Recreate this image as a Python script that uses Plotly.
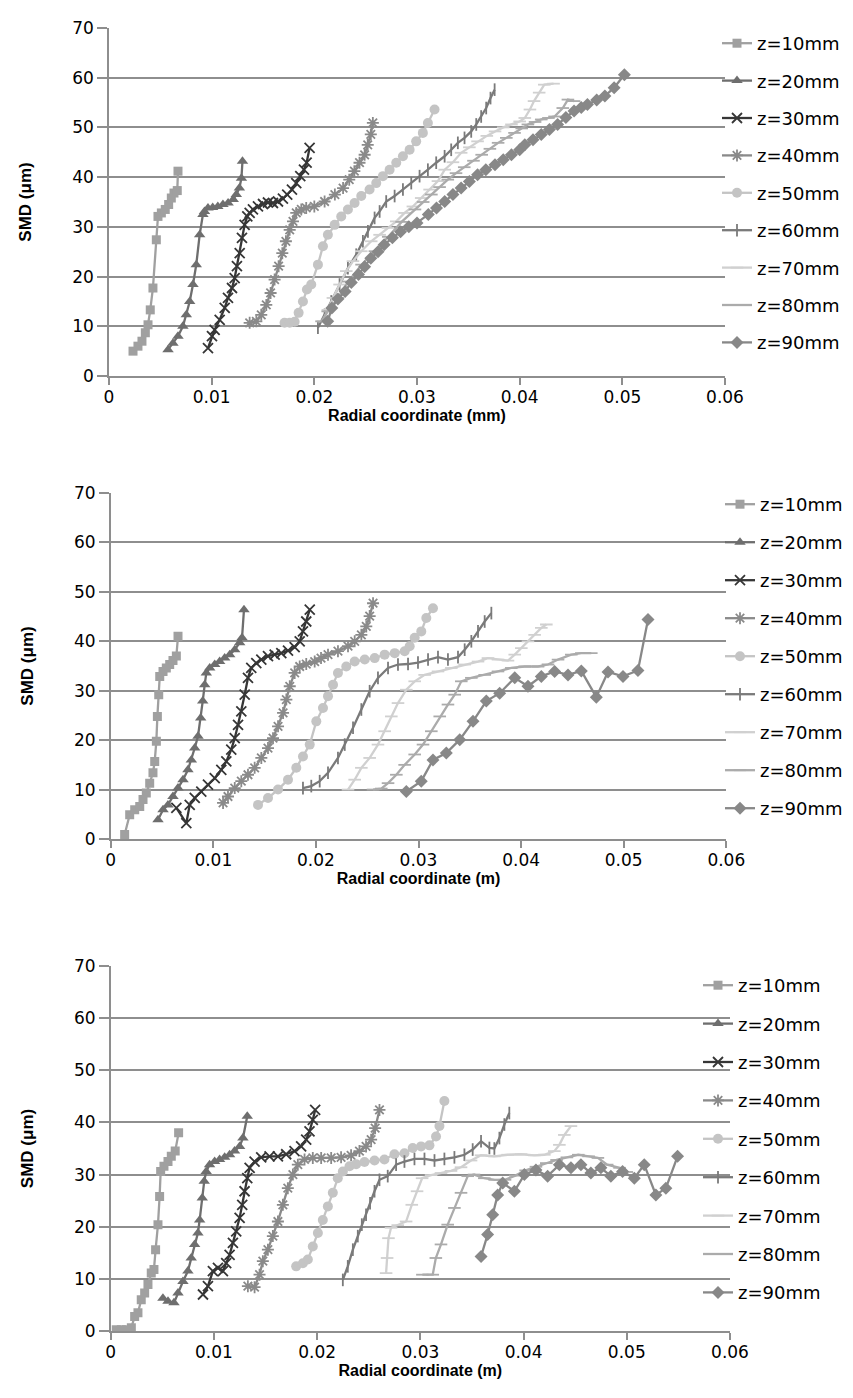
import plotly.graph_objects as go

# ---------------- data ----------------
labels = ["z=10mm", "z=20mm", "z=30mm", "z=40mm", "z=50mm", "z=60mm", "z=70mm", "z=80mm", "z=90mm"]
x_tick_vals = [0, 0.01, 0.02, 0.03, 0.04, 0.05, 0.06]
x_tick_text = ["0", "0.01", "0.02", "0.03", "0.04", "0.05", "0.06"]
y_tick_vals = [0, 10, 20, 30, 40, 50, 60, 70]
x_titles = ["Radial coordinate (mm)", "Radial coordinate (m)", "Radial coordinate (m)"]
y_title = "SMD (μm)"

# Panel 1
p1_z10_x = [0.00234,0.00282,0.00321,0.00354,0.0038,0.00402,0.00428,0.00461,0.00477,0.0051,0.00548,0.00581,0.00607,0.00633,0.00665,0.00672]
p1_z10_y = [5.0,6.0,7.0,8.7,10.3,13.3,17.7,27.4,32.1,32.8,33.5,34.5,35.8,36.8,37.3,41.2]
p1_z20_x = [0.00575,0.00623,0.00672,0.0072,0.00753,0.00786,0.00818,0.0085,0.00883,0.00915,0.0093,0.00964,0.0101,0.0106,0.0111,0.0116,0.0121,0.0124,0.0127,0.0129,0.0130]
p1_z20_y = [5.3,6.6,8.0,10.0,12.3,15.0,18.4,22.4,28.4,32.5,33.1,33.8,33.9,34.1,34.5,34.8,35.5,36.5,37.8,39.8,43.2]
p1_z30_x = [0.00964,0.01003,0.01029,0.01078,0.01127,0.01159,0.01198,0.01224,0.01246,0.01273,0.01295,0.01321,0.01347,0.0137,0.01402,0.01451,0.015,0.01548,0.01597,0.01646,0.01694,0.01736,0.01782,0.01824,0.01863,0.01899,0.01925,0.01954]
p1_z30_y = [5.6,8.0,9.3,11.3,13.7,15.7,17.7,19.7,22.1,24.7,27.8,30.4,32.1,32.8,33.5,34.1,34.6,34.9,34.8,35.1,35.7,36.5,37.5,38.8,40.2,41.5,42.9,45.9]
p1_z40_x = [0.0137,0.01435,0.01483,0.01532,0.01574,0.01613,0.01652,0.01688,0.01723,0.0176,0.01792,0.01824,0.01873,0.01921,0.0200,0.0210,0.0220,0.0228,0.0234,0.0239,0.0244,0.0249,0.0252,0.0255,0.0257]
p1_z40_y = [10.7,11.0,12.3,14.3,16.7,19.4,22.1,24.7,27.1,29.4,31.1,32.8,33.5,33.8,34.1,35.1,36.5,37.8,39.5,41.2,42.9,44.5,46.5,48.6,50.9]
p1_z50_x = [0.0171,0.0176,0.01808,0.01847,0.01889,0.01928,0.0197,0.02035,0.02084,0.02132,0.02198,0.02262,0.02327,0.02392,0.02457,0.02538,0.02603,0.02668,0.02733,0.02798,0.02863,0.02928,0.02992,0.03057,0.03106,0.03171]
p1_z50_y = [10.7,10.7,10.9,12.7,15.0,17.4,18.4,22.4,26.1,28.4,30.4,32.1,33.5,34.8,36.2,37.5,38.8,40.2,41.5,42.9,44.2,45.5,47.2,48.9,50.9,53.6]
p1_z60_x = [0.02035,0.021,0.02165,0.02246,0.02327,0.02408,0.02473,0.02522,0.02587,0.02636,0.027,0.02782,0.02863,0.02944,0.03025,0.03106,0.03187,0.03269,0.03333,0.03398,0.03463,0.03528,0.03577,0.03625,0.03674,0.03716,0.03756]
p1_z60_y = [9.7,12.3,15.0,18.4,21.7,24.4,27.1,29.1,31.8,33.1,35.1,36.2,37.5,38.8,40.2,41.5,42.9,44.2,45.5,46.9,47.9,49.2,50.6,52.2,53.9,55.9,57.6]
p1_z70_x = [0.02084,0.02132,0.02181,0.02246,0.02311,0.02376,0.02457,0.02554,0.02636,0.02717,0.02798,0.02879,0.0296,0.03041,0.03123,0.03204,0.0327,0.0335,0.0343,0.0351,0.0359,0.0368,0.0376,0.0384,0.0392,0.0400,0.0405,0.0410,0.0414,0.0419,0.0424,0.0433]
p1_z70_y = [11.0,13.3,15.7,18.4,21.1,23.1,25.1,27.1,28.4,29.8,31.1,32.8,34.1,35.8,37.5,39.2,41.5,43.0,44.9,46.0,47.2,48.3,49.2,50.0,50.6,51.2,51.9,53.6,55.3,57.0,58.6,58.8]
p1_z80_x = [0.0207,0.0213,0.0223,0.0233,0.0246,0.0259,0.0272,0.0285,0.0298,0.0306,0.0314,0.0322,0.0330,0.0338,0.0346,0.0355,0.0363,0.0371,0.0379,0.0387,0.0395,0.0402,0.0408,0.0415,0.0421,0.0428,0.0434,0.0442,0.0447,0.0453]
p1_z80_y = [11.0,13.0,15.7,19.0,22.4,25.1,28.0,31.0,33.5,35.0,36.5,38.0,39.5,40.8,42.0,43.3,44.5,45.7,46.9,47.9,48.9,49.8,50.6,51.1,51.6,51.9,52.2,53.9,55.6,55.3]
p1_z90_x = [0.0213,0.0217,0.0223,0.0230,0.0236,0.0243,0.0249,0.0255,0.0262,0.0268,0.0276,0.0284,0.0292,0.0300,0.0311,0.0319,0.0327,0.0335,0.0343,0.0351,0.0359,0.0367,0.0376,0.0384,0.0392,0.0400,0.0405,0.0413,0.0421,0.0429,0.0437,0.0445,0.0453,0.0460,0.0466,0.0475,0.0483,0.0492,0.0502]
p1_z90_y = [11.0,13.7,15.5,17.0,18.8,20.4,22.0,23.7,25.0,26.4,27.8,29.0,30.0,30.8,32.5,33.8,35.1,36.5,37.8,39.1,40.5,41.5,42.5,43.5,44.5,45.5,46.5,47.5,48.6,49.6,50.6,52.0,53.3,54.0,54.6,55.5,56.3,58.0,60.6]

# Panel 2
p2_z10_x = [0.00136,0.00185,0.00234,0.00283,0.00315,0.00347,0.0038,0.00412,0.00429,0.00445,0.00455,0.00468,0.00478,0.0051,0.00542,0.00575,0.00607,0.0064,0.00656]
p2_z10_y = [0.9,4.9,5.9,6.6,8.0,9.3,11.3,13.4,15.7,19.8,24.8,29.2,32.9,33.9,34.6,35.3,36.1,37.0,41.0]
p2_z20_x = [0.00461,0.0051,0.00558,0.00607,0.00656,0.00705,0.00753,0.00786,0.00819,0.00851,0.00877,0.00897,0.00916,0.00932,0.00965,0.01014,0.01062,0.01111,0.0116,0.01209,0.01257,0.0128,0.01299]
p2_z20_y = [3.9,5.9,6.9,8.6,10.3,12.0,14.0,16.0,18.4,20.8,24.5,27.9,31.2,33.6,34.6,35.3,35.9,36.6,37.3,38.3,39.7,40.7,46.4]
p2_z30_x = [0.0064,0.00737,0.0077,0.00819,0.00883,0.00948,0.01014,0.01078,0.01127,0.01175,0.01209,0.01241,0.01273,0.01306,0.01338,0.0137,0.01419,0.01468,0.01533,0.01598,0.01663,0.01728,0.01793,0.01842,0.01874,0.01906,0.0194]
p2_z30_y = [6.3,3.2,6.9,8.3,9.6,11.0,12.3,14.0,15.7,18.1,20.4,23.1,25.8,29.2,32.6,34.6,35.6,36.3,37.0,37.3,37.6,38.1,38.8,40.0,42.0,44.0,46.4]
p2_z40_x = [0.01095,0.01143,0.01209,0.01273,0.01338,0.01403,0.01468,0.01533,0.01582,0.01631,0.0168,0.01712,0.01745,0.01793,0.01842,0.01906,0.01988,0.0205,0.02118,0.02215,0.02313,0.02378,0.02443,0.02491,0.02524,0.02557]
p2_z40_y = [7.3,8.6,10.3,11.7,13.0,14.4,16.4,18.4,20.4,22.8,25.5,28.2,30.9,33.6,34.9,35.4,35.9,36.6,37.3,38.0,39.0,40.0,41.3,43.0,45.1,47.7]
p2_z50_x = [0.01436,0.01533,0.01631,0.01728,0.01809,0.01874,0.0194,0.02004,0.02069,0.02118,0.02167,0.02215,0.02296,0.02378,0.02476,0.02573,0.0267,0.02768,0.02865,0.02914,0.02963,0.03027,0.03076,0.03141]
p2_z50_y = [6.9,8.3,10.0,12.0,14.4,16.7,19.1,23.8,26.5,28.9,31.2,33.6,34.9,35.9,36.3,36.6,37.3,37.6,38.0,39.0,40.7,42.0,44.7,46.7]
p2_z60_x = [0.01874,0.01955,0.02037,0.02118,0.02215,0.02281,0.02362,0.02443,0.02524,0.02605,0.02703,0.028,0.02898,0.02995,0.03093,0.0319,0.03287,0.03385,0.0345,0.03515,0.0358,0.03645,0.0371]
p2_z60_y = [10.3,10.7,11.7,13.4,16.4,19.1,22.5,26.2,29.9,32.6,34.6,35.3,35.4,35.7,36.3,36.8,36.3,36.8,38.3,40.0,42.0,44.0,45.7]
p2_z70_x = [0.02313,0.02378,0.02443,0.02524,0.02605,0.0267,0.02735,0.028,0.02881,0.02963,0.0306,0.0319,0.0332,0.0345,0.0358,0.03677,0.03775,0.03872,0.03938,0.04002,0.04067,0.04132,0.04197,0.04246]
p2_z70_y = [10.0,12.0,14.4,16.4,19.1,21.8,24.8,27.5,30.2,31.9,33.2,33.9,34.6,35.3,35.9,36.6,36.3,36.1,37.3,38.6,40.0,41.3,42.7,43.4]
p2_z80_x = [0.02557,0.02637,0.02703,0.02784,0.02865,0.02963,0.03044,0.03125,0.03207,0.03287,0.03353,0.03417,0.03515,0.03645,0.03775,0.03904,0.04035,0.04165,0.04262,0.0436,0.04489,0.04587,0.04684]
p2_z80_y = [10.0,10.2,11.3,13.0,15.0,17.1,19.1,21.8,24.8,27.2,29.2,31.9,32.6,33.2,33.9,34.6,34.9,34.9,35.3,36.3,37.3,37.6,37.6]
p2_z90_x = [0.02881,0.03027,0.03141,0.03271,0.03402,0.03531,0.03661,0.03791,0.03938,0.04067,0.04197,0.04327,0.04457,0.04587,0.04733,0.04847,0.04993,0.05139,0.05237]
p2_z90_y = [9.6,11.7,16.0,17.4,20.1,23.8,27.9,29.5,32.6,30.9,32.9,33.9,33.2,34.0,28.7,33.8,32.9,34.1,44.4]

# Panel 3
p3_z10_x = [0.00054,0.00103,0.00151,0.002,0.00232,0.00264,0.00296,0.00329,0.00361,0.00393,0.00419,0.00435,0.00458,0.00474,0.00484,0.00516,0.00555,0.00587,0.00625,0.00658]
p3_z10_y = [0.25,0.25,0.25,0.6,2.8,3.5,6.0,7.3,8.9,11.1,11.8,15.6,20.4,25.8,30.6,31.6,32.5,33.5,34.5,38.0]
p3_z20_x = [0.00506,0.00555,0.00613,0.00652,0.007,0.00748,0.0078,0.00813,0.00845,0.00862,0.00887,0.00906,0.00925,0.00958,0.01007,0.01055,0.01104,0.01152,0.012,0.01249,0.01281,0.01323]
p3_z20_y = [6.3,5.7,5.4,7.3,9.5,11.5,14.0,16.6,18.8,21.3,25.5,28.7,30.6,31.9,32.5,32.9,33.3,33.8,34.5,35.4,37.0,41.2]
p3_z30_x = [0.00894,0.00942,0.0099,0.01039,0.01087,0.01119,0.01152,0.01184,0.01216,0.01249,0.01274,0.01297,0.01323,0.01346,0.01394,0.01458,0.01539,0.0162,0.017,0.01781,0.01845,0.01894,0.01926,0.01958,0.01981]
p3_z30_y = [7.0,8.6,11.5,12.1,11.5,13.0,14.6,16.9,19.1,21.7,24.2,26.8,29.3,31.3,32.5,33.3,33.5,33.5,33.9,34.5,35.4,36.7,38.3,40.5,42.4]
p3_z40_x = [0.01329,0.01394,0.01442,0.01474,0.01523,0.01571,0.0162,0.01668,0.01716,0.01765,0.01813,0.01878,0.01958,0.02039,0.02136,0.02232,0.02329,0.0241,0.02474,0.02523,0.02562,0.02604]
p3_z40_y = [8.6,8.4,10.8,13.4,15.6,18.2,21.0,24.2,27.4,30.0,31.9,32.9,33.2,33.2,33.2,33.3,33.7,34.5,35.4,36.7,38.9,42.4]
p3_z50_x = [0.01797,0.01862,0.0191,0.01958,0.02007,0.02055,0.02104,0.02152,0.022,0.02249,0.02314,0.02378,0.02459,0.02556,0.02652,0.02749,0.02846,0.02926,0.03007,0.03088,0.03152,0.03185,0.03233]
p3_z50_y = [12.4,13.0,13.7,16.2,18.8,21.3,23.9,26.5,29.3,30.6,31.6,32.0,32.4,32.7,32.9,33.9,34.1,35.1,35.4,35.6,37.3,39.3,44.1]
p3_z60_x = [0.02249,0.02297,0.02346,0.02394,0.02433,0.02474,0.02513,0.02556,0.02604,0.02684,0.02765,0.02846,0.02943,0.0304,0.03137,0.03233,0.0333,0.03427,0.03507,0.03588,0.03669,0.03717,0.03766,0.03814,0.03862]
p3_z60_y = [9.8,12.4,15.6,18.2,20.4,22.3,24.5,26.8,29.0,29.7,31.9,32.5,33.0,33.0,32.7,33.0,33.3,33.8,34.8,36.4,35.1,35.0,37.0,39.6,41.8]
p3_z70_x = [0.02668,0.02678,0.02691,0.02716,0.02781,0.02862,0.02917,0.02968,0.03017,0.03104,0.032,0.03297,0.03394,0.03491,0.03588,0.03717,0.03846,0.03975,0.04105,0.04201,0.04298,0.04347,0.04395,0.04459]
p3_z70_y = [11.1,14.0,17.8,19.8,20.3,21.0,24.2,26.8,29.3,29.9,30.3,30.7,31.4,32.7,33.7,33.5,33.8,33.9,33.7,33.8,34.5,35.7,37.6,39.3]
p3_z80_x = [0.0302,0.0312,0.0315,0.0320,0.03265,0.0333,0.03394,0.03459,0.0352,0.0362,0.0372,0.0382,0.0392,0.0402,0.0412,0.0422,0.0432,0.0442,0.0453,0.0463,0.0472,0.0481,0.0493,0.0500]
p3_z80_y = [10.8,10.8,14.0,16.6,20.4,23.6,26.5,29.7,30.0,29.3,29.0,29.0,29.8,30.8,31.5,32.2,32.8,33.3,33.8,33.5,33.2,31.9,31.3,30.5]
p3_z90_x = [0.03588,0.03652,0.03701,0.03749,0.03798,0.03911,0.04008,0.0412,0.04233,0.04347,0.04459,0.04556,0.04652,0.04749,0.04846,0.04959,0.05073,0.05169,0.05282,0.05379,0.05492]
p3_z90_y = [14.3,18.5,22.3,26.1,28.4,26.8,30.0,30.9,29.7,31.9,31.3,31.9,30.3,31.3,29.7,30.6,29.3,31.9,26.1,27.4,33.5]

panels = [
    [(p1_z10_x, p1_z10_y), (p1_z20_x, p1_z20_y), (p1_z30_x, p1_z30_y), (p1_z40_x, p1_z40_y), (p1_z50_x, p1_z50_y),
     (p1_z60_x, p1_z60_y), (p1_z70_x, p1_z70_y), (p1_z80_x, p1_z80_y), (p1_z90_x, p1_z90_y)],
    [(p2_z10_x, p2_z10_y), (p2_z20_x, p2_z20_y), (p2_z30_x, p2_z30_y), (p2_z40_x, p2_z40_y), (p2_z50_x, p2_z50_y),
     (p2_z60_x, p2_z60_y), (p2_z70_x, p2_z70_y), (p2_z80_x, p2_z80_y), (p2_z90_x, p2_z90_y)],
    [(p3_z10_x, p3_z10_y), (p3_z20_x, p3_z20_y), (p3_z30_x, p3_z30_y), (p3_z40_x, p3_z40_y), (p3_z50_x, p3_z50_y),
     (p3_z60_x, p3_z60_y), (p3_z70_x, p3_z70_y), (p3_z80_x, p3_z80_y), (p3_z90_x, p3_z90_y)],
]

# ---------------- styles ----------------
colors = ["#a0a0a0", "#6e6e6e", "#363636", "#8a8a8a", "#c4c4c4", "#7a7a7a", "#d0d0d0", "#ababab", "#888888"]
symbols = ["square", "triangle-up", "x-thin-open", "asterisk-open", "circle", "line-ns-open",
           "line-ew-open", "line-ew-open", "diamond"]
sizes = [9, 10, 10, 10, 10, 9, 9, 9, 10]

W, H = 853, 1398
# pixel boxes of the three plot areas (left, right, top, bottom)
boxes = [(101, 717, 20, 368), (102.7, 718.3, 485, 831), (102.7, 722, 958, 1323)]
legend_pos = [(709, 17), (712, 478), (690, 959)]
legend_gap = [11.0, 11.6, 12.0]

GRID = "#8e8e8e"
FONT = "DejaVu Sans"

fig = go.Figure()
for p, series in enumerate(panels):
    ax = "" if p == 0 else str(p + 1)
    leg = "legend" if p == 0 else f"legend{p + 1}"
    for i, (xs, ys) in enumerate(series):
        open_sym = symbols[i].endswith("-open")
        fig.add_trace(go.Scatter(
            x=xs, y=ys, mode="lines+markers", name=labels[i],
            xaxis="x" + ax, yaxis="y" + ax, legend=leg,
            legendgroup=f"p{p}_{i}",
            line=dict(color=colors[i], width=2.3),
            marker=dict(symbol=symbols[i], size=sizes[i], color=colors[i],
                        line=dict(color=colors[i], width=1.8 if open_sym else 0)),
        ))

layout = dict(
    width=W, height=H, margin=dict(l=0, r=0, t=0, b=0, autoexpand=False),
    paper_bgcolor="white", plot_bgcolor="white",
    font=dict(family=FONT, size=17, color="black"),
    showlegend=True,
)
for p, (l, r, t, b) in enumerate(boxes):
    ax = "" if p == 0 else str(p + 1)
    layout["xaxis" + ax] = dict(
        domain=[l / W, r / W], range=[0, 0.06], anchor="y" + ax,
        tickvals=x_tick_vals, ticktext=x_tick_text,
        showgrid=False, zeroline=False, showline=True, linecolor=GRID, linewidth=1.5,
        ticks="outside", ticklen=7, tickcolor=GRID, tickwidth=1.5, ticklabelstandoff=-2,
        tickfont=dict(family=FONT, size=17, color="black"),
        title=dict(text=x_titles[p], standoff=1,
                   font=dict(family="Liberation Sans", size=16, color="black", weight="bold")),
    )
    layout["yaxis" + ax] = dict(
        domain=[1 - b / H, 1 - t / H], range=[0, 70], anchor="x" + ax,
        tickvals=y_tick_vals,
        showgrid=True, gridcolor=GRID, gridwidth=1.5, zeroline=False,
        showline=True, linecolor=GRID, linewidth=1.5,
        ticks="outside", ticklen=10, tickcolor=GRID, tickwidth=1.5,
        tickfont=dict(family=FONT, size=17, color="black"),
        title=dict(text=y_title, standoff=36,
                   font=dict(family="Liberation Sans", size=17, color="black", weight="bold")),
    )
    lx, ly = legend_pos[p]
    leg = "legend" if p == 0 else f"legend{p + 1}"
    layout[leg] = dict(
        x=lx / W, y=1 - ly / H, xanchor="left", yanchor="top",
        bgcolor="rgba(0,0,0,0)", borderwidth=0,
        tracegroupgap=legend_gap[p], itemwidth=30,
        font=dict(family=FONT, size=18, color="black"),
    )

fig.update_layout(**layout)
fig.write_html("out.html")
